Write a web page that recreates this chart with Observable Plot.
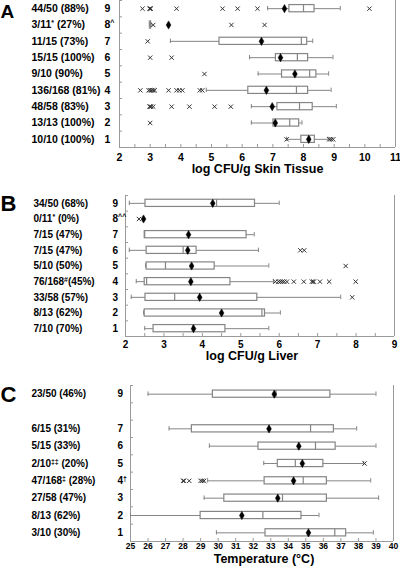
<!DOCTYPE html>
<html><head><meta charset="utf-8">
<script src="https://cdn.jsdelivr.net/npm/d3@7"></script>
<script src="https://cdn.jsdelivr.net/npm/@observablehq/plot@0.6"></script>
<style>
html,body{margin:0;padding:0;background:#fff;}
#chart svg{display:block;}
</style></head><body><div id="chart"></div>
<script>
const rows = [9, 8, 7, 6, 5, 4, 3, 2, 1];

// ---------- Panel A : log CFU/g Skin Tissue ----------
const aTitle = "log CFU/g Skin Tissue";
const aRowText = ["9", "8^", "7", "6", "5", "4", "3", "2", "1"];
const aLabels = ["44/50 (88%)", "3/11* (27%)", "11/15 (73%)", "15/15 (100%)", "9/10 (90%)", "136/168 (81%)", "48/58 (83%)", "13/13 (100%)", "10/10 (100%)"];
const aLow  = [6.83, 2.99, 3.66, 6.24, 6.52, 4.83, 6.30, 6.30, 7.45];
const aQ1   = [7.54, 2.99, 5.26, 7.10, 7.30, 6.20, 7.15, 7.02, 7.93];
const aMed  = [8.00, 3.00, 7.93, 7.80, 8.20, 7.77, 7.87, 7.55, 8.20];
const aQ3   = [8.36, 3.03, 8.12, 8.15, 8.42, 8.15, 8.30, 7.86, 8.37];
const aHigh = [9.20, 3.03, 8.30, 8.96, 8.82, 8.90, 9.07, 7.95, 8.80];
const aMean = [7.38, 3.60, 6.63, 7.25, 7.72, 6.79, 6.98, 7.08, 8.17];
const aOut  = [
  [2.75, 2.98, 3.0, 3.02, 3.86, 5.36, 5.85, 6.5, 10.15],
  [3.1, 5.65, 6.73],
  [2.92],
  [3.0, 3.7],
  [4.77],
  [2.68, 2.95, 3.0, 3.05, 3.1, 3.15, 3.6, 3.86, 3.95, 4.05, 4.62, 4.7],
  [2.98, 3.0, 3.03, 3.1, 3.7, 4.28, 5.1, 5.63],
  [3.0],
  [7.45, 8.84, 8.9, 8.97]
];
const aTicks = [2, 3, 4, 5, 6, 7, 8, 9, 10, 11];

// ---------- Panel B : log CFU/g Liver ----------
const bTitle = "log CFU/g Liver";
const bRowText = ["9", "8^^", "7", "6", "5", "4", "3", "2", "1"];
const bLabels = ["34/50 (68%)", "0/11* (0%)", "7/15 (47%)", "7/15 (47%)", "5/10 (50%)", "76/168#(45%)", "33/58 (57%)", "8/13 (62%)", "7/10 (70%)"];
const bLow  = [2.10, null, 2.50, 2.10, 2.52, 2.28, 2.15, 2.47, 2.50];
const bQ1   = [2.52, null, 2.50, 2.55, 2.55, 2.50, 2.52, 2.50, 2.73];
const bMed  = [4.37, null, 2.50, 3.50, 3.04, 2.55, 3.28, 5.55, 3.75];
const bQ3   = [5.37, null, 5.15, 3.85, 4.32, 4.73, 5.43, 5.63, 4.60];
const bHigh = [6.00, null, 5.35, 5.46, 5.73, 5.85, 7.60, 6.03, 5.73];
const bMean = [4.27, 2.47, 3.64, 3.62, 3.72, 3.70, 3.93, 4.50, 3.77];
const bOut  = [
  [],
  [2.35],
  [],
  [6.55, 6.65],
  [7.73],
  [5.9, 5.98, 6.03, 6.08, 6.13, 6.2, 6.38, 6.64, 6.85, 6.88, 6.9, 7.06, 7.3, 7.99],
  [7.9],
  [],
  []
];
const bTicks = [2, 3, 4, 5, 6, 7, 8, 9];

// ---------- Panel C : Temperature ----------
const cTitle = "Temperature (°C)";
const cRowText = ["9", "", "7", "6", "5", "4†", "3", "2", "1"];
const cLabels = ["23/50 (46%)", "", "6/15 (31%)", "5/15 (33%)", "2/10‡‡ (20%)", "47/168‡ (28%)", "27/58 (47%)", "8/13 (62%)", "3/10 (30%)"];
const cLow  = [26.0, null, 27.2, 29.5, 32.6, 29.4, 29.2, 25.0, 29.9];
const cQ1   = [29.7, null, 28.5, 32.3, 33.4, 32.65, 30.35, 29.0, 32.7];
const cMed  = [33.3, null, 35.27, 35.55, 34.4, 34.85, 33.67, 32.55, 36.65];
const cQ3   = [36.4, null, 36.6, 36.7, 36.0, 36.2, 36.2, 34.75, 37.3];
const cHigh = [39.0, null, 37.9, 39.0, 38.3, 38.7, 39.15, 35.75, 38.85];
const cMean = [33.2, null, 32.9, 34.6, 34.8, 34.3, 33.4, 31.35, 35.15];
const cOut  = [
  [], [], [], [], [38.35],
  [28.0, 28.05, 28.35, 29.0, 29.1, 29.2],
  [], [], []
];
const cTicks = [25, 26, 27, 28, 29, 30, 31, 32, 33, 34, 35, 36, 37, 38, 39, 40];

const axisGrey = "#9a9a9a";
const boxGrey = "#858585";
const font = "'Liberation Sans', Arial, sans-serif";

function superscripts(svg, size) {
  svg.querySelectorAll("text").forEach(t => {
    if (t.querySelector("tspan")) return;
    const s = t.textContent;
    if (!/[*#‡†^]/.test(s)) return;
    t.textContent = "";
    s.split(/([*#‡†^]+)/).forEach(part => {
      if (!part) return;
      const ts = document.createElementNS("http://www.w3.org/2000/svg", "tspan");
      ts.textContent = part;
      if (/^[*#‡†^]+$/.test(part)) {
        ts.setAttribute("font-size", size);
        ts.setAttribute("baseline-shift", "super");
      }
      t.appendChild(ts);
    });
  });
}

function panel(cfg) {
  const data = rows.map((r, i) => ({
    row: r, rowText: cfg.rowText[i], label: cfg.labels[i],
    low: cfg.low[i], q1: cfg.q1[i], med: cfg.med[i], q3: cfg.q3[i], high: cfg.high[i], mean: cfg.mean[i]
  }));
  const outs = data.flatMap((d, i) => cfg.out[i].map(v => ({row: d.row, v})));
  const step = (cfg.height - cfg.mt - cfg.mb) / 9;
  const h = 3.6 / step;
  const cap = 2.2 / step;
  const withBox = data.filter(d => d.q1 != null);
  const svg = Plot.plot({
    width: 400, height: cfg.height,
    marginTop: cfg.mt, marginBottom: cfg.mb, marginLeft: cfg.ml, marginRight: cfg.mr,
    x: {domain: cfg.xDomain},
    y: {domain: [0.5, 9.5]},
    style: {fontFamily: font, fontWeight: "bold", fontSize: "10px", color: "black", background: "white", overflow: "visible"},
    marks: [
      Plot.ruleX(cfg.xDomain, {stroke: axisGrey}),
      Plot.ruleY([0.5], {stroke: axisGrey}),
      Plot.axisY({ticks: d3.range(0.5, 9.6, 1), tickSize: -3, tickFormat: () => "", label: null, stroke: axisGrey}),
      Plot.axisX({ticks: cfg.minor, tickSize: -3, tickFormat: () => "", label: null, stroke: axisGrey}),
      Plot.axisX({ticks: cfg.ticks, tickSize: 0, tickPadding: cfg.tp, tickFormat: d => String(d), label: null, fontSize: cfg.tickFont, fontWeight: "bold"}),
      // whiskers
      Plot.ruleY(withBox, {y: "row", x1: "low", x2: "q1", stroke: boxGrey}),
      Plot.ruleY(withBox, {y: "row", x1: "q3", x2: "high", stroke: boxGrey}),
      Plot.ruleX(withBox, {x: "low", y1: d => d.row - cap, y2: d => d.row + cap, stroke: boxGrey}),
      Plot.ruleX(withBox, {x: "high", y1: d => d.row - cap, y2: d => d.row + cap, stroke: boxGrey}),
      // box
      Plot.rect(withBox, {x1: "q1", x2: "q3", y1: d => d.row - h, y2: d => d.row + h, fill: "white", stroke: boxGrey, strokeWidth: 1.2}),
      Plot.ruleX(withBox, {x: "med", y1: d => d.row - h, y2: d => d.row + h, stroke: boxGrey, strokeWidth: 1.2}),
      // outliers
      Plot.dot(outs, {x: "v", y: "row", symbol: "times", r: 2.1, stroke: "#333", strokeWidth: 1}),
      // mean
      Plot.dot(data.filter(d => d.mean != null), {x: "mean", y: "row", symbol: "diamond", r: 2.5, fill: "black", stroke: "black", strokeWidth: 0.5}),
      // row numbers and left labels
      Plot.text(data, {y: "row", text: "rowText", frameAnchor: "left", dx: cfg.numDx, textAnchor: "start", fontSize: cfg.labFont}),
      Plot.text(data, {y: "row", text: "label", frameAnchor: "left", dx: cfg.labDx, textAnchor: "start", fontSize: cfg.labFont}),
      // panel letter
      Plot.text([{row: 9, t: cfg.letter}], {y: "row", text: "t", frameAnchor: "left", dx: -cfg.ml, dy: cfg.letterDy, textAnchor: "start", fontSize: cfg.letterSize, fontWeight: "bold"}),
      // axis title
      Plot.text([cfg.title], {text: d => d, frameAnchor: "bottom", dy: cfg.titleDy, dx: cfg.titleDx, fontSize: 12.5, fontWeight: "bold"})
    ]
  });
  superscripts(svg, "7px");
  return svg;
}

const chart = document.getElementById("chart");
chart.appendChild(panel({
  letter: "A", title: aTitle, rowText: aRowText, labels: aLabels,
  low: aLow, q1: aQ1, med: aMed, q3: aQ3, high: aHigh, mean: aMean, out: aOut,
  ticks: aTicks, minor: d3.range(2, 11.01, 0.5), xDomain: [2, 11],
  height: 180, mt: 0, mb: 33, ml: 119, mr: 5, tp: 6, tickFont: 10.5,
  numDx: -15, labDx: -88, labFont: 10.5, letterDy: 3, letterSize: 19, titleDy: 25, titleDx: 0
}));
chart.appendChild(panel({
  letter: "B", title: bTitle, rowText: bRowText, labels: bLabels,
  low: bLow, q1: bQ1, med: bMed, q3: bQ3, high: bHigh, mean: bMean, out: bOut,
  ticks: bTicks, minor: d3.range(2, 9.01, 0.5), xDomain: [2, 9],
  height: 190, mt: 15, mb: 34, ml: 125, mr: 6, tp: 4, tickFont: 10,
  numDx: -13, labDx: -92, labFont: 10, letterDy: 1, letterSize: 22, titleDy: 23, titleDx: -8
}));
chart.appendChild(panel({
  letter: "C", title: cTitle, rowText: cRowText, labels: cLabels,
  low: cLow, q1: cQ1, med: cMed, q3: cQ3, high: cHigh, mean: cMean, out: cOut,
  ticks: cTicks, minor: d3.range(25, 40.01, 1), xDomain: [25, 40],
  height: 199, mt: 15, mb: 28, ml: 130, mr: 7, tp: 1, tickFont: 8.5,
  numDx: -13, labDx: -99, labFont: 10, letterDy: 1, letterSize: 22, titleDy: 21, titleDx: 2
}));
</script>
</body></html>
